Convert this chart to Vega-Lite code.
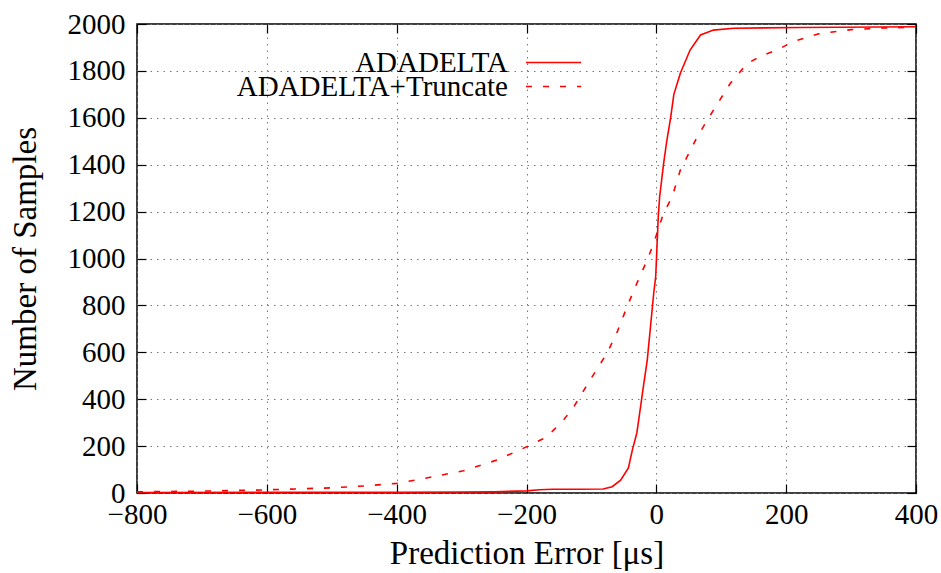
{
  "$schema": "https://vega.github.io/schema/vega-lite/v6.json",
  "width": 779,
  "height": 469,
  "autosize": {"type": "none"},
  "padding": {"left": 137, "top": 24, "right": 25, "bottom": 80},
  "background": "white",
  "config": {
    "font": "Liberation Serif",
    "view": {"stroke": "black", "strokeWidth": 1.5},
    "axis": {
      "labelFont": "Liberation Serif",
      "titleFont": "Liberation Serif",
      "labelColor": "black",
      "titleColor": "black",
      "titleFontWeight": "normal",
      "tickColor": "black",
      "domainColor": "black",
      "gridColor": "#777777",
      "gridDash": [1.5, 5],
      "gridWidth": 1,
      "gridOpacity": 1,
      "labelFlush": false
    },
    "legend": {
      "title": null,
      "orient": "none",
      "padding": 0,
      "offset": 0,
      "symbolType": "stroke",
      "symbolSize": 3025,
      "symbolStrokeWidth": 1.6,
      "symbolStrokeColor": "#ff0000",
      "labelAlign": "right",
      "labelOffset": -74,
      "labelFontSize": 29,
      "labelFont": "Liberation Serif",
      "labelColor": "black",
      "labelLimit": 500
    }
  },
  "data": {
    "values": [
      {"series": "ADADELTA", "err": -800, "n": 2},
      {"series": "ADADELTA", "err": -600, "n": 3},
      {"series": "ADADELTA", "err": -400, "n": 3},
      {"series": "ADADELTA", "err": -300, "n": 4},
      {"series": "ADADELTA", "err": -250, "n": 5},
      {"series": "ADADELTA", "err": -200, "n": 9},
      {"series": "ADADELTA", "err": -180, "n": 14},
      {"series": "ADADELTA", "err": -160, "n": 16},
      {"series": "ADADELTA", "err": -120, "n": 16},
      {"series": "ADADELTA", "err": -82, "n": 17},
      {"series": "ADADELTA", "err": -68, "n": 27},
      {"series": "ADADELTA", "err": -55, "n": 55},
      {"series": "ADADELTA", "err": -43, "n": 107},
      {"series": "ADADELTA", "err": -37, "n": 183},
      {"series": "ADADELTA", "err": -30, "n": 256},
      {"series": "ADADELTA", "err": -25, "n": 354},
      {"series": "ADADELTA", "err": -20, "n": 453},
      {"series": "ADADELTA", "err": -14, "n": 567},
      {"series": "ADADELTA", "err": -9, "n": 709},
      {"series": "ADADELTA", "err": -4, "n": 853},
      {"series": "ADADELTA", "err": -1, "n": 922},
      {"series": "ADADELTA", "err": 1, "n": 1050},
      {"series": "ADADELTA", "err": 3, "n": 1180},
      {"series": "ADADELTA", "err": 5, "n": 1260},
      {"series": "ADADELTA", "err": 11, "n": 1400},
      {"series": "ADADELTA", "err": 16, "n": 1500},
      {"series": "ADADELTA", "err": 22, "n": 1600},
      {"series": "ADADELTA", "err": 27, "n": 1700},
      {"series": "ADADELTA", "err": 37, "n": 1790},
      {"series": "ADADELTA", "err": 52, "n": 1889},
      {"series": "ADADELTA", "err": 68, "n": 1953},
      {"series": "ADADELTA", "err": 88, "n": 1974},
      {"series": "ADADELTA", "err": 119, "n": 1982},
      {"series": "ADADELTA", "err": 222, "n": 1985},
      {"series": "ADADELTA", "err": 400, "n": 1988},
      {"series": "ADADELTA+Truncate", "err": -800, "n": 5},
      {"series": "ADADELTA+Truncate", "err": -700, "n": 8},
      {"series": "ADADELTA+Truncate", "err": -605, "n": 13},
      {"series": "ADADELTA+Truncate", "err": -500, "n": 22},
      {"series": "ADADELTA+Truncate", "err": -451, "n": 30},
      {"series": "ADADELTA+Truncate", "err": -400, "n": 41},
      {"series": "ADADELTA+Truncate", "err": -348, "n": 67},
      {"series": "ADADELTA+Truncate", "err": -297, "n": 95},
      {"series": "ADADELTA+Truncate", "err": -245, "n": 141},
      {"series": "ADADELTA+Truncate", "err": -199, "n": 198},
      {"series": "ADADELTA+Truncate", "err": -168, "n": 240},
      {"series": "ADADELTA+Truncate", "err": -158, "n": 269},
      {"series": "ADADELTA+Truncate", "err": -143, "n": 311},
      {"series": "ADADELTA+Truncate", "err": -127, "n": 368},
      {"series": "ADADELTA+Truncate", "err": -102, "n": 482},
      {"series": "ADADELTA+Truncate", "err": -76, "n": 596},
      {"series": "ADADELTA+Truncate", "err": -61, "n": 682},
      {"series": "ADADELTA+Truncate", "err": -45, "n": 795},
      {"series": "ADADELTA+Truncate", "err": -30, "n": 894},
      {"series": "ADADELTA+Truncate", "err": -14, "n": 994},
      {"series": "ADADELTA+Truncate", "err": -4, "n": 1065},
      {"series": "ADADELTA+Truncate", "err": 11, "n": 1193},
      {"series": "ADADELTA+Truncate", "err": 24, "n": 1260},
      {"series": "ADADELTA+Truncate", "err": 37, "n": 1377},
      {"series": "ADADELTA+Truncate", "err": 63, "n": 1519},
      {"series": "ADADELTA+Truncate", "err": 88, "n": 1633},
      {"series": "ADADELTA+Truncate", "err": 114, "n": 1747},
      {"series": "ADADELTA+Truncate", "err": 140, "n": 1832},
      {"series": "ADADELTA+Truncate", "err": 165, "n": 1868},
      {"series": "ADADELTA+Truncate", "err": 186, "n": 1889},
      {"series": "ADADELTA+Truncate", "err": 211, "n": 1925},
      {"series": "ADADELTA+Truncate", "err": 250, "n": 1958},
      {"series": "ADADELTA+Truncate", "err": 300, "n": 1976},
      {"series": "ADADELTA+Truncate", "err": 350, "n": 1983},
      {"series": "ADADELTA+Truncate", "err": 400, "n": 1986}
    ]
  },
  "layer": [
    {
      "mark": {"type": "line", "opacity": 0},
      "encoding": {
        "x": {"field": "err", "type": "quantitative", "scale": {"domain": [-800, 400], "nice": false, "zero": false},
          "axis": {"orient": "top", "values": [-800, -600, -400, -200, 0, 200, 400], "labels": false, "grid": false, "domain": false, "tickSize": -9, "tickWidth": 1.2, "title": null}},
        "y": {"field": "n", "type": "quantitative", "scale": {"domain": [0, 2000], "nice": false},
          "axis": {"orient": "right", "values": [0, 200, 400, 600, 800, 1000, 1200, 1400, 1600, 1800, 2000], "labels": false, "grid": false, "domain": false, "tickSize": -9, "tickWidth": 1.2, "title": null}},
        "detail": {"field": "series"}
      }
    },
    {
      "transform": [{"filter": "datum.series === 'ADADELTA'"}],
      "mark": {"type": "line", "strokeWidth": 1.6, "interpolate": "linear"},
      "encoding": {
        "x": {"field": "err", "type": "quantitative", "scale": {"domain": [-800, 400], "nice": false, "zero": false},
          "axis": {"orient": "bottom", "values": [-800, -600, -400, -200, 0, 200, 400], "format": "d", "tickSize": -9, "tickWidth": 1.2, "labelFontSize": 29, "labelPadding": 16, "title": "Prediction Error [μs]", "titleFontSize": 33, "titlePadding": 8, "grid": true, "domain": false}},
        "y": {"field": "n", "type": "quantitative", "scale": {"domain": [0, 2000], "nice": false},
          "axis": {"orient": "left", "values": [0, 200, 400, 600, 800, 1000, 1200, 1400, 1600, 1800, 2000], "format": "d", "tickSize": -9, "tickWidth": 1.2, "labelFontSize": 29, "labelPadding": 21, "title": "Number of Samples", "titleFontSize": 33, "titlePadding": 25, "grid": true, "domain": false}},
        "color": {"field": "series", "type": "nominal", "scale": {"range": ["#ff0000"]},
          "legend": {"legendX": 388, "legendY": 10}}
      }
    },
    {
      "transform": [{"filter": "datum.series === 'ADADELTA+Truncate'"}],
      "mark": {"type": "line", "strokeWidth": 1.6, "interpolate": "linear", "strokeDash": [6, 11]},
      "encoding": {
        "x": {"field": "err", "type": "quantitative", "scale": {"domain": [-800, 400], "nice": false, "zero": false}, "axis": null},
        "y": {"field": "n", "type": "quantitative", "scale": {"domain": [0, 2000], "nice": false}, "axis": null},
        "color": {"field": "series", "type": "nominal", "scale": {"range": ["#ff0000"]},
          "legend": {"legendX": 388, "legendY": 34, "symbolDash": [6, 11]}}
      }
    }
  ],
  "resolve": {
    "axis": {"x": "independent", "y": "independent"},
    "scale": {"color": "independent"},
    "legend": {"color": "independent"}
  }
}
